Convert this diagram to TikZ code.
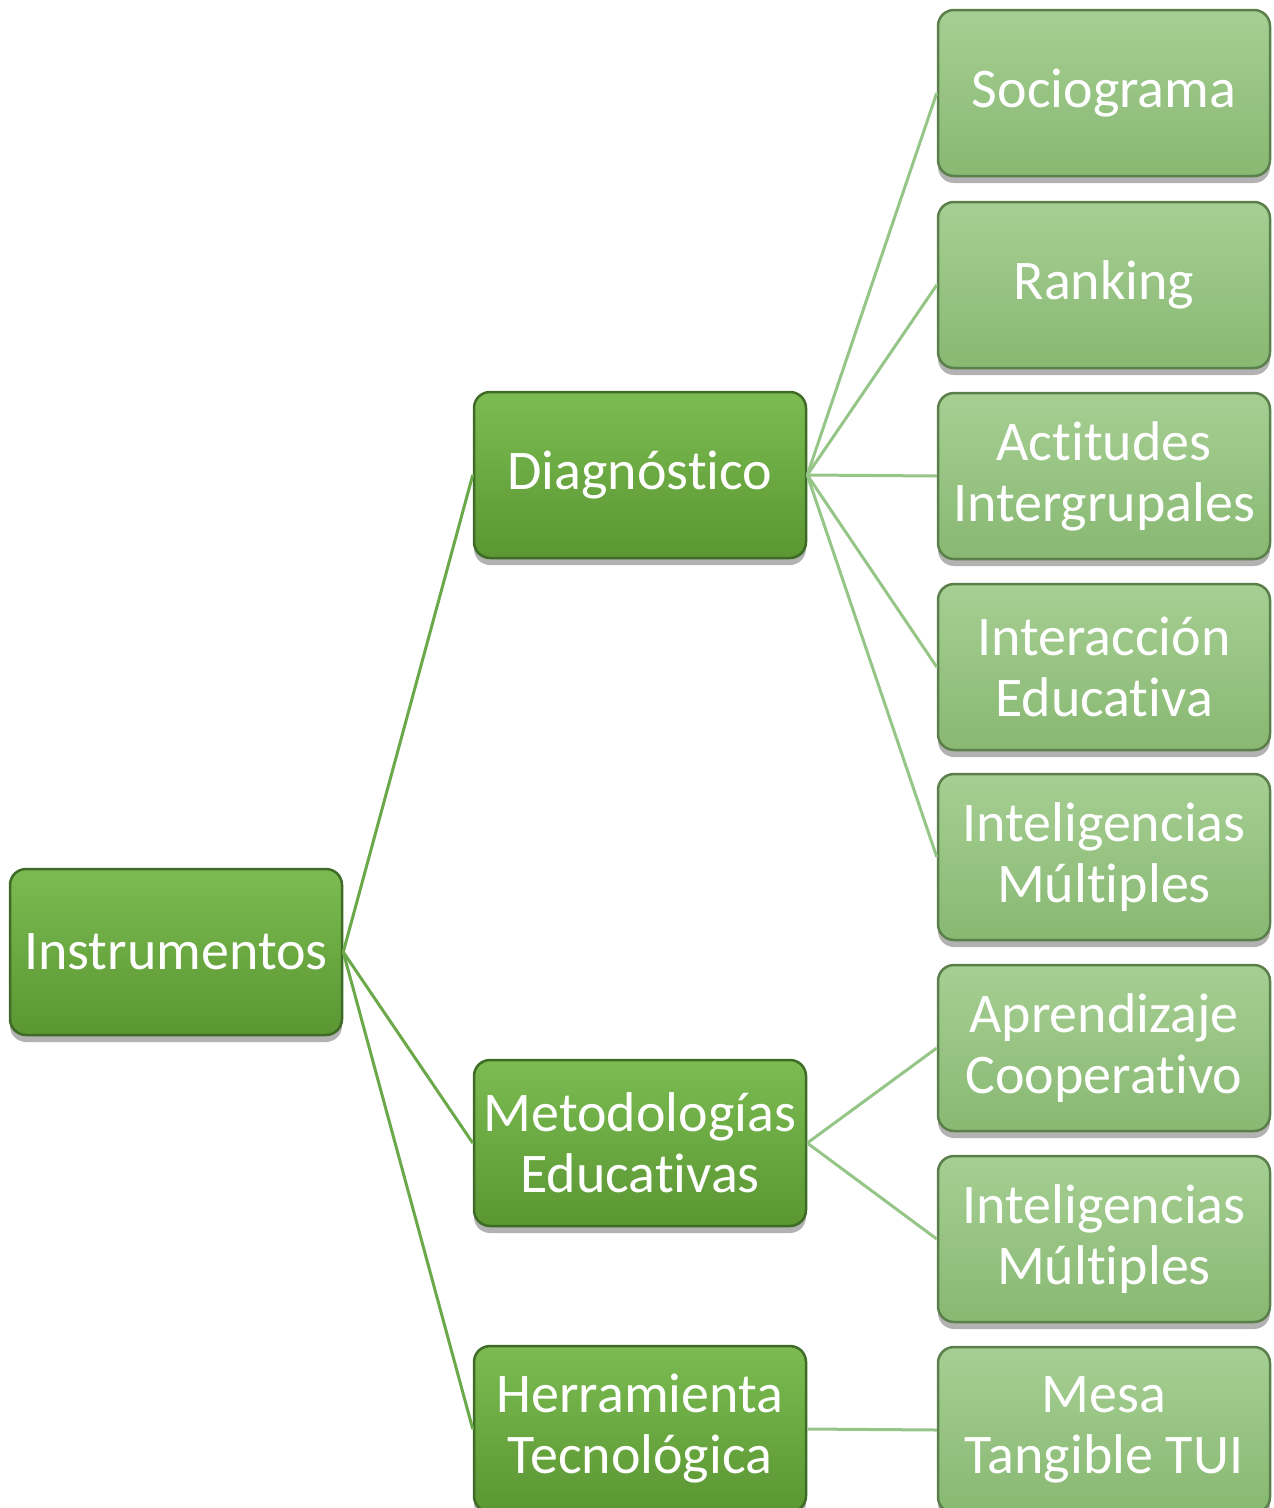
\documentclass[tikz,border=0pt]{standalone}
\usepackage{fontspec}
\setmainfont[Ligatures=NoCommon]{Carlito}
\usetikzlibrary{shadows,shadings}

\definecolor{darkTop}{HTML}{7CBB52}
\definecolor{darkBot}{HTML}{5A9632}
\definecolor{darkEdge}{HTML}{3E6B26}
\definecolor{lightTop}{HTML}{A6CF93}
\definecolor{lightBot}{HTML}{88B872}
\definecolor{lightEdge}{HTML}{5B7F4B}
\definecolor{linkDark}{HTML}{6AA84A}
\definecolor{linkLight}{HTML}{95C587}

\tikzset{
  box/.style={draw, line width=2.5pt, rounded corners=16pt,
    minimum width=332pt, minimum height=166pt, inner sep=0pt,
    align=center, text=white,
    font=\fontsize{56}{61}\selectfont,
    drop shadow={shadow xshift=0pt, shadow yshift=-7pt, opacity=0.3, fill=black}},
  mainbox/.style={box, draw=darkEdge, top color=darkTop, bottom color=darkBot},
  leafbox/.style={box, draw=lightEdge, top color=lightTop, bottom color=lightBot},
  linkA/.style={draw=linkDark, line width=3pt},
  linkB/.style={draw=linkLight, line width=3pt},
}

\begin{document}
\begin{tikzpicture}[x=1pt, y=-1pt]
  \useasboundingbox (0,0) rectangle (1274,1508);

  % first and second level
  \node[mainbox] (inst) at (176,952) {\raisebox{-3pt}{Instrumentos}};
  \node[mainbox] (diag) at (640,475) {\raisebox{-3pt}{Diagnóstico}};
  \node[mainbox] (meto) at (640,1143) {Metodologías\\Educativas};
  \node[mainbox] (herr) at (640,1429) {Herramienta\\Tecnológica};

  % leaves
  \node[leafbox] (soc) at (1104,93) {\raisebox{-3pt}{Sociograma}};
  \node[leafbox] (rank) at (1104,285) {\raisebox{-3pt}{Ranking}};
  \node[leafbox] (act) at (1104,476) {Actitudes\\Intergrupales};
  \node[leafbox] (inter) at (1104,667) {Interacción\\Educativa};
  \node[leafbox] (intA) at (1104,857) {Inteligencias\\Múltiples};
  \node[leafbox] (apr) at (1104,1048) {Aprendizaje\\Cooperativo};
  \node[leafbox] (intB) at (1104,1239) {Inteligencias\\Múltiples};
  \node[leafbox] (mesa) at (1104,1430) {Mesa\\Tangible TUI};

  % connectors
  \foreach \t in {diag,meto,herr}
    \draw[linkA] (inst.east) -- (\t.west);
  \foreach \t in {soc,rank,act,inter,intA}
    \draw[linkB] (diag.east) -- (\t.west);
  \foreach \t in {apr,intB}
    \draw[linkB] (meto.east) -- (\t.west);
  \draw[linkB] (herr.east) -- (mesa.west);
\end{tikzpicture}
\end{document}
